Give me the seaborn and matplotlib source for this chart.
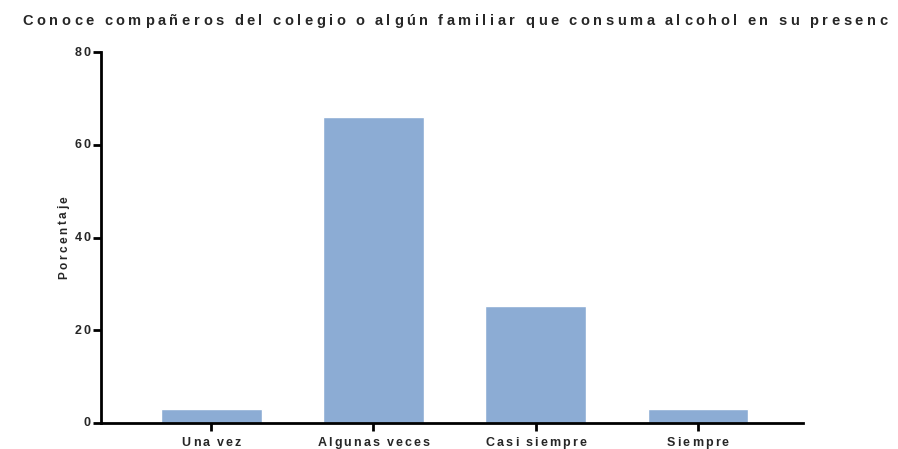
import matplotlib
matplotlib.use("Agg")
import matplotlib.pyplot as plt
from matplotlib.transforms import IdentityTransform
import pandas as pd
import seaborn as sns

categories = ["Una vez", "Algunas veces", "Casi siempre", "Siempre"]
percentages = [3.1, 66.0, 25.2, 3.1]
y_ticks = [0, 20, 40, 60, 80]
title = "Conoce compañeros del colegio o algún familiar que consuma alcohol en su presenc"
y_label = "Porcentaje"

sns.set_style("ticks")
plt.rcParams["font.family"] = ["Liberation Sans", "DejaVu Sans"]
plt.rcParams["font.weight"] = "bold"

df = pd.DataFrame({"categoria": categories, "porcentaje": percentages})

fig = plt.figure(figsize=(8.98, 4.49), dpi=100)
ax = fig.add_axes([0.1125, 0.058, 0.782, 0.826])
sns.barplot(data=df, x="categoria", y="porcentaje", color="#8CACD4",
            saturation=1, width=0.62, ax=ax)

ax.set_xlim(-0.68, 3.65)
ax.set_ylim(0, 80)
ax.set_yticks(y_ticks)
ax.set_xlabel("")
ax.set_ylabel("")
for side in ["top", "right"]:
    ax.spines[side].set_visible(False)
for side in ["left", "bottom"]:
    ax.spines[side].set_linewidth(2)
    ax.spines[side].set_color("black")
ax.tick_params(axis="both", width=2, length=6, colors="black",
               labelbottom=False, labelleft=False)

renderer = fig.canvas.get_renderer()
H = fig.bbox.height


def char_widths(s, size, space=0.24):
    widths = []
    for ch in s:
        if ch == " ":
            widths.append(size * 100 / 72 * space)
        else:
            t = fig.text(0, 0, ch, fontsize=size, fontweight="bold")
            widths.append(t.get_window_extent(renderer).width)
            t.remove()
    return widths


def tracked_text(s, x, y, size, track, ha="left", vertical=False, va="baseline",
                 space=0.24):
    """Draw text with extra letter spacing (display pixel coords)."""
    widths = char_widths(s, size, space)
    total = sum(widths) + track * (len(s) - 1)
    if ha == "center":
        start = -total / 2
    elif ha == "right":
        start = -total
    else:
        start = 0
    pos = start
    for ch, w in zip(s, widths):
        if ch != " ":
            if vertical:
                fig.text(x, y + pos, ch, fontsize=size, fontweight="bold",
                         rotation=90, rotation_mode="anchor", ha="left",
                         va=va, transform=IdentityTransform())
            else:
                fig.text(x + pos, y, ch, fontsize=size, fontweight="bold",
                         ha="left", va=va, transform=IdentityTransform())
        pos += w + track


# title
tracked_text(title, 22, H - 25, 10.5, 3.6, space=0.2)

# x tick labels
for i, name in enumerate(categories):
    px, py = ax.transData.transform((i, 0))
    tracked_text(name, px, H - 446, 9, 2.1, ha="center")

# y tick labels
x_axis = ax.transAxes.transform((0, 0))[0]
for v in y_ticks:
    px, py = ax.transData.transform((0, v))
    tracked_text(str(v), x_axis - 10.5, py - 3.5, 9, 2.0, ha="right")

# y label
y_mid = ax.transAxes.transform((0, 0.5))[1]
tracked_text(y_label, 67, y_mid, 8.5, 2.5, ha="center", vertical=True)

fig.savefig("out.png", dpi=100)
